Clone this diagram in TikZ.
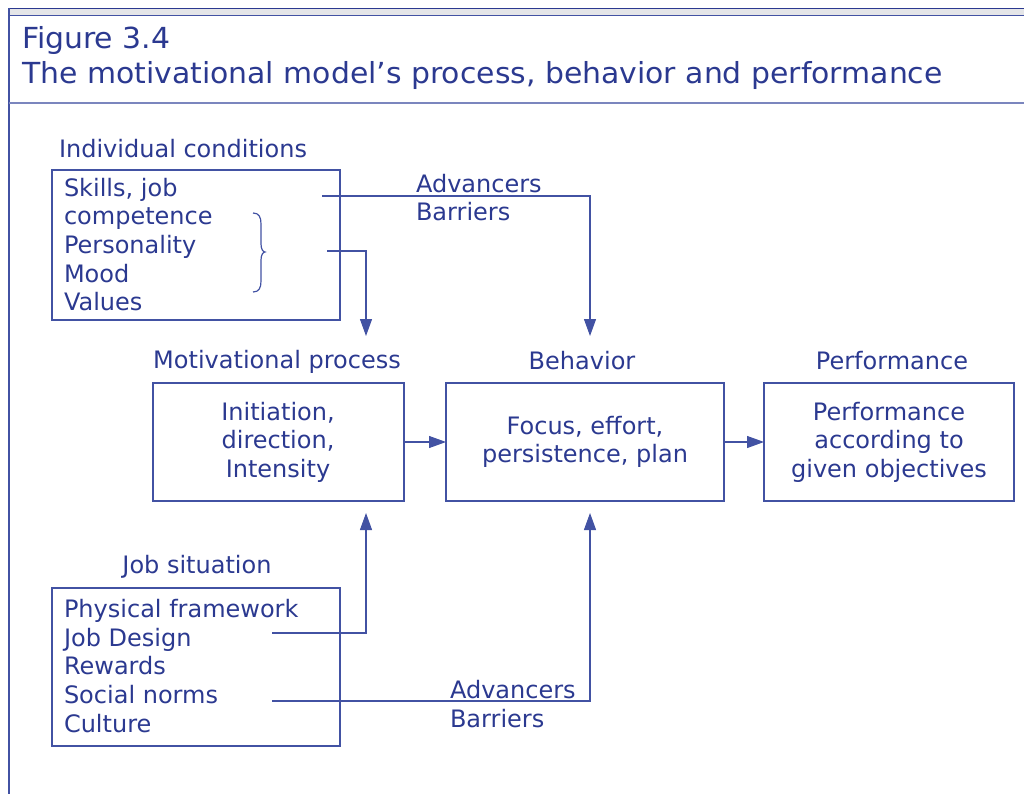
\documentclass[tikz,border=0pt]{standalone}
\usepackage{fontspec}
\setmainfont{DejaVu Sans}
\newfontfamily\titlefont[FakeStretch=1.03]{DejaVu Sans}
\usetikzlibrary{arrows.meta}
\definecolor{txt}{HTML}{2B3990}
\definecolor{ln}{HTML}{4252A3}
\definecolor{band}{HTML}{E4E5E8}
\begin{document}
\begin{tikzpicture}[x=1pt,y=-1pt,
  every node/.style={text=txt, inner sep=0pt, outer sep=0pt},
  main/.style={font=\fontsize{24}{28.6}\selectfont},
  box/.style={draw=ln, line width=1.1pt},
  conn/.style={draw=ln, line width=1.1pt},
  arr/.style={conn, -{Triangle[length=17pt,width=12pt]}}]
\useasboundingbox (0,0) rectangle (1024,794);
% header frame
\fill[band] (9,9) rectangle (1024,15);
\draw[txt, line width=1.3pt] (9,8.5) -- (1024,8.5);
\draw[ln, line width=1pt] (9,15.5) -- (1024,15.5);
\draw[ln, line width=1.1pt] (9,8) -- (9,794);
\draw[ln!70, line width=1.1pt] (9,103) -- (1024,103);
\node[anchor=base west, font=\titlefont\fontsize{29}{34}\selectfont] (t1) at (22,48.5) {Figure 3.4};
\node[anchor=base west, font=\titlefont\fontsize{29}{34}\selectfont] (t2) at (22,83.5) {The motivational model’s process, behavior and performance};

% boxes
\node[box, minimum width=288pt, minimum height=150pt] (ic) at (196,245) {};
\node[box, minimum width=251pt, minimum height=118pt] (mp) at (278.5,442) {};
\node[box, minimum width=278pt, minimum height=118pt] (be) at (585,442) {};
\node[box, minimum width=250pt, minimum height=118pt] (pf) at (889,442) {};
\node[box, minimum width=288pt, minimum height=158pt] (js) at (196,667) {};

% labels
\node[main, anchor=west] (icl) at (59,149) {Individual conditions};
\node[main] (mpl) at (277,362) {Motivational process};
\node[main] (bel) at (582,361) {Behavior};
\node[main] (pfl) at (892,361) {Performance};
\node[main] (jsl) at (197,567) {Job situation};

% box texts
\node[main, anchor=west, align=left] (ict) at (64,244.5) {Skills, job\\competence\\Personality\\Mood\\Values};
\node[main, align=center] (mpt) at (278,442) {Initiation,\\direction,\\Intensity};
\node[main, align=center] (bet) at (585,442) {Focus, effort,\\persistence, plan};
\node[main, align=center] (pft) at (889,442) {Performance\\according to\\given objectives};
\node[main, anchor=west, align=left] (jst) at (64,666) {Physical framework\\Job Design\\Rewards\\Social norms\\Culture};

% advancers/barriers
\node[main, anchor=west, align=left] (ab1) at (416,197.5) {Advancers\\Barriers};
\node[main, anchor=west, align=left] (ab2) at (450,704) {Advancers\\Barriers};

% brace
\draw[ln, line width=1.2pt] (253,213) .. controls (259,213) and (261,217) .. (261,224)
  -- (261,244) .. controls (261,249) and (263,252) .. (265,252)
  .. controls (263,252) and (261,255) .. (261,260)
  -- (261,281) .. controls (261,288) and (259,292) .. (253,292);

% connectors
\coordinate (s1) at (322,196);
\coordinate (e1) at (590,336);
\coordinate (s2) at (327,251);
\coordinate (e2) at (366,336);
\coordinate (s3) at (272,633);
\coordinate (e3) at (366,513);
\coordinate (s4) at (272,701);
\coordinate (e4) at (590,513);
\draw[arr] (s1) -| (e1);
\draw[arr] (s2) -| (e2);
\draw[arr] (s3) -| (e3);
\draw[arr] (s4) -| (e4);
\draw[arr] (mp.east) -- (be.west);
\draw[arr] (be.east) -- (pf.west);
\end{tikzpicture}
\end{document}
